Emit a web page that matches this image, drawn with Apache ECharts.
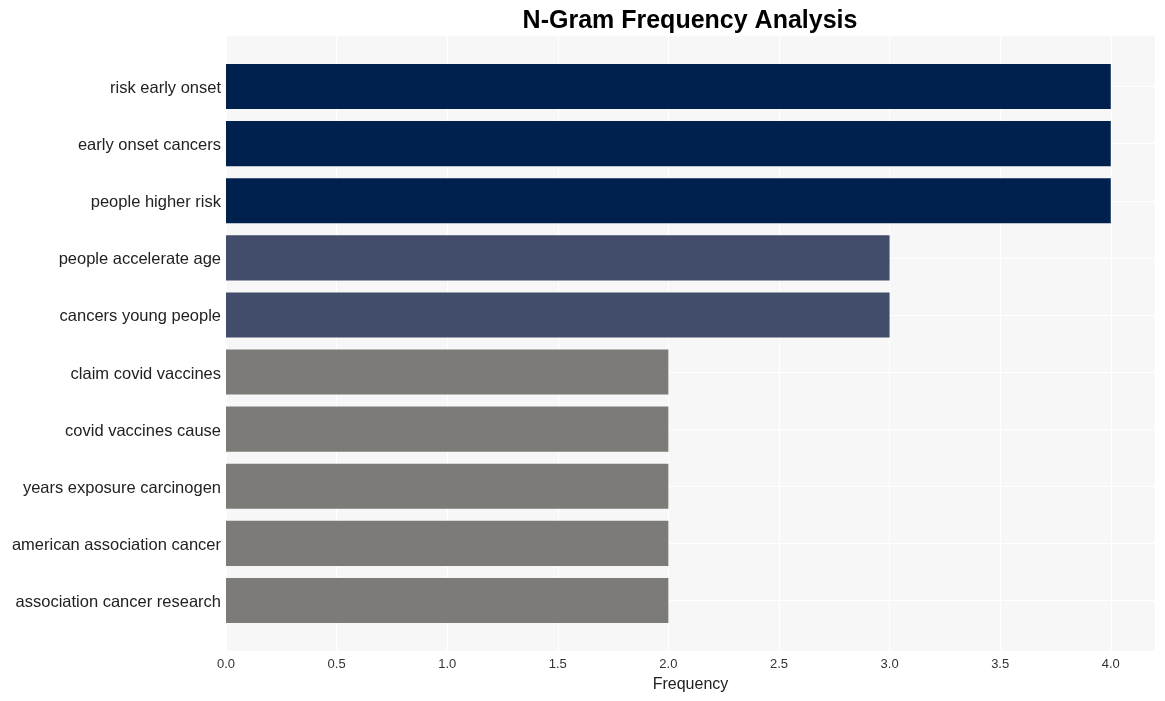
<!DOCTYPE html>
<html>
<head>
<meta charset="utf-8">
<script src="https://cdn.jsdelivr.net/npm/echarts@6/dist/echarts.min.js"></script>
<style>html,body{margin:0;padding:0;background:#fff;}#c{width:1165px;height:701px;}</style>
</head>
<body>
<div id="c"></div>
<script>
const categories = [
  "risk early onset",
  "early onset cancers",
  "people higher risk",
  "people accelerate age",
  "cancers young people",
  "claim covid vaccines",
  "covid vaccines cause",
  "years exposure carcinogen",
  "american association cancer",
  "association cancer research"
];
const frequencies = [4, 4, 4, 3, 3, 2, 2, 2, 2, 2];
const colorByValue = { 4: "#00204D", 3: "#414D6B", 2: "#7C7B78" };

const FONT = 'Liberation Sans, Arial, sans-serif';
const chart = echarts.init(document.getElementById('c'), null, { renderer: 'canvas' });
chart.setOption({
  animation: false,
  backgroundColor: '#ffffff',
  title: {
    text: 'N-Gram Frequency Analysis',
    left: 685, top: 4, textAlign: 'center',
    textStyle: { fontFamily: FONT, fontSize: 25, fontWeight: 'bold', color: '#000' }
  },
  grid: [
    { left: 226, right: 10, top: 36, bottom: 50, show: true, backgroundColor: '#f7f7f7', borderWidth: 0 },
    { left: 226, right: 10, top: 58, bottom: 72 }
  ],
  xAxis: [{
    gridIndex: 0,
    type: 'value', min: 0, max: 4.2, interval: 0.5,
    name: 'Frequency', nameLocation: 'middle', nameGap: 26,
    nameTextStyle: { fontFamily: FONT, fontSize: 16, color: '#222' },
    axisLine: { show: false }, axisTick: { show: false },
    axisLabel: { margin: 7, fontFamily: FONT, fontSize: 13, color: '#333', showMaxLabel: false,
      formatter: v => Number(v).toFixed(1) },
    splitLine: { show: true, lineStyle: { color: '#ffffff', width: 1 } }
  }, {
    gridIndex: 1,
    type: 'value', min: 0, max: 4.2,
    show: false
  }],
  yAxis: [{
    gridIndex: 0, type: 'value', show: false, min: 0, max: 1
  }, {
    gridIndex: 1,
    type: 'category', data: categories, inverse: true,
    axisLine: { show: false }, axisTick: { show: false },
    axisLabel: { margin: 5, verticalAlign: 'top', lineHeight: 4, fontFamily: FONT, fontSize: 16.5, color: '#222' },
    splitLine: { show: false }
  }],
  series: [{
    type: 'bar',
    xAxisIndex: 1, yAxisIndex: 1,
    z: 2,
    data: frequencies.map(v => ({ value: v, itemStyle: { color: colorByValue[v] } })),
    barCategoryGap: '21%',
    markLine: {
      silent: true, z: 1, symbol: ['none', 'none'], animation: false,
      label: { show: false },
      lineStyle: { color: '#ffffff', width: 1, type: 'solid' },
      data: categories.map(c => ({ yAxis: c }))
    }
  }]
});
</script>
</body>
</html>
